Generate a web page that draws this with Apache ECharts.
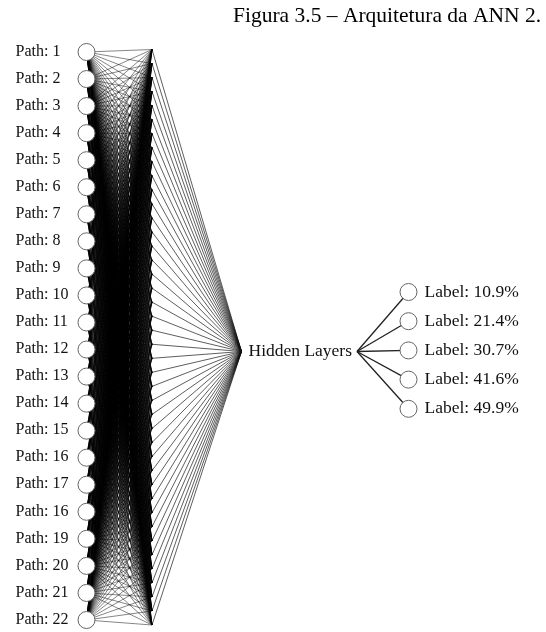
<!DOCTYPE html>
<html>
<head>
<meta charset="utf-8">
<title>Arquitetura da ANN 2</title>
<script src="https://cdn.jsdelivr.net/npm/echarts@6/dist/echarts.min.js"></script>
<style>
  html, body { margin: 0; padding: 0; background: #fff; }
  #chart { width: 546px; height: 632px; }
</style>
</head>
<body>
<div id="chart"></div>
<script>
// dados da figura
const titleText = 'Figura 3.5 – Arquitetura da ANN 2.'
const inputLabels = [
  'Path: 1', 'Path: 2', 'Path: 3', 'Path: 4', 'Path: 5', 'Path: 6',
  'Path: 7', 'Path: 8', 'Path: 9', 'Path: 10', 'Path: 11', 'Path: 12',
  'Path: 13', 'Path: 14', 'Path: 15', 'Path: 16', 'Path: 17', 'Path: 16',
  'Path: 19', 'Path: 20', 'Path: 21', 'Path: 22',
]
const hiddenUnits = 42
const hiddenLabel = 'Hidden Layers'
const outputLabels = [
  'Label: 10.9%', 'Label: 21.4%', 'Label: 30.7%', 'Label: 41.6%', 'Label: 49.9%',
]

// layout (coordenadas do eixo, em px da figura)
const inX = 86.5, inTop = 52, inBottom = 620
const hidX = 152, hidTop = 49.5, hidBottom = 625
const joinX = 241.5, joinY = 351.5
const forkX = 357
const outX = 408.5, outTop = 292, outStep = 29.2
const nodeSize = 17
const font = '"Liberation Serif", "Times New Roman", serif'

const nodes = []
const links = []

inputLabels.forEach((txt, i) => {
  const y = inTop + (i * (inBottom - inTop)) / (inputLabels.length - 1)
  nodes.push({
    name: 'in' + i,
    value: [inX, y],
    symbolSize: nodeSize,
    label: {
      show: true,
      formatter: txt,
      position: [16 - (inX - nodeSize / 2), nodeSize / 2],
      align: 'left',
      verticalAlign: 'middle',
      fontSize: 16,
    },
  })
})

for (let j = 0; j < hiddenUnits; j++) {
  const y = hidTop + (j * (hidBottom - hidTop)) / (hiddenUnits - 1)
  nodes.push({ name: 'h' + j, value: [hidX, y], symbolSize: 0 })
}

nodes.push({
  name: 'join',
  value: [joinX, joinY],
  symbolSize: 0,
  label: { show: true, formatter: hiddenLabel, position: 'right', distance: 7 },
})
nodes.push({ name: 'fork', value: [forkX, joinY], symbolSize: 0 })

outputLabels.forEach((txt, k) => {
  nodes.push({
    name: 'out' + k,
    value: [outX, outTop + k * outStep],
    symbolSize: nodeSize,
    label: { show: true, formatter: txt, position: 'right', distance: 7 },
  })
})

// entrada -> primeira camada
inputLabels.forEach((_, i) => {
  for (let j = 0; j < hiddenUnits; j++) {
    links.push({
      source: 'in' + i,
      target: 'h' + j,
      lineStyle: { color: '#000', width: 0.6, opacity: 0.8 },
    })
  }
})
// primeira camada -> hidden layers
for (let j = 0; j < hiddenUnits; j++) {
  links.push({
    source: 'h' + j,
    target: 'join',
    lineStyle: { color: '#111', width: 0.75, opacity: 0.9 },
  })
}
// hidden layers -> saídas
outputLabels.forEach((_, k) => {
  links.push({
    source: 'fork',
    target: 'out' + k,
    lineStyle: { color: '#222', width: 1.3, opacity: 1 },
  })
})

const chart = echarts.init(document.getElementById('chart'), null, { renderer: 'canvas' })

chart.setOption({
  animation: false,
  backgroundColor: '#fff',
  title: {
    text: titleText,
    left: 228,
    top: 0,
    textStyle: {
      fontFamily: font,
      fontWeight: 'normal',
      fontSize: 21.5,
      color: '#000',
    },
  },
  grid: { left: 0, right: 0, top: 0, bottom: 0 },
  xAxis: { type: 'value', min: 0, max: 546, show: false },
  yAxis: { type: 'value', min: 0, max: 632, inverse: true, show: false },
  series: [
    {
      type: 'graph',
      coordinateSystem: 'cartesian2d',
      layout: 'none',
      silent: true,
      symbol: 'circle',
      itemStyle: { color: '#fff', borderColor: '#666', borderWidth: 1 },
      label: {
        fontFamily: font,
        fontSize: 17.5,
        color: '#111',
      },
      data: nodes,
      links: links,
    },
  ],
})
</script>
</body>
</html>
